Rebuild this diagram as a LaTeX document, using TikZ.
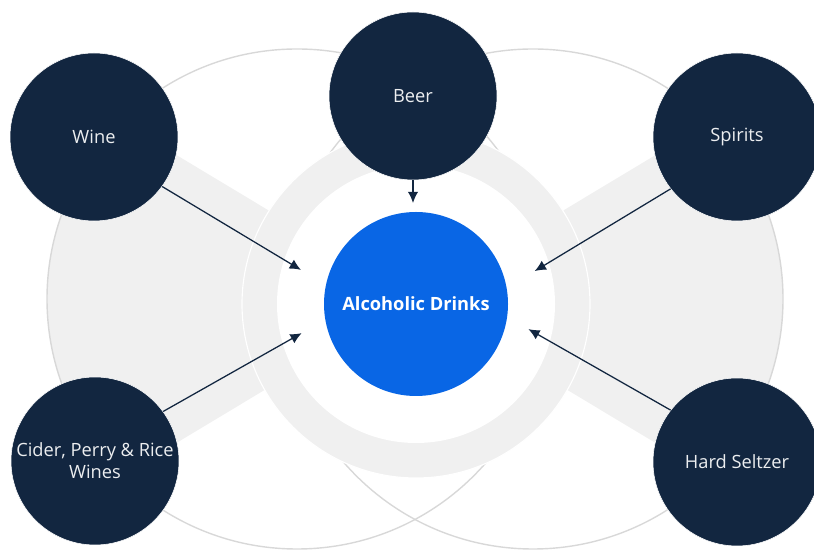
\documentclass[tikz,border=0pt]{standalone}
\usepackage{fontspec}
\setmainfont{Open Sans}
\usetikzlibrary{arrows.meta, calc}
\definecolor{dkNavy}{RGB}{18,38,64}
\definecolor{brBlue}{RGB}{9,102,229}
\definecolor{bgGray}{RGB}{240,240,240}
\definecolor{lnGray}{RGB}{216,216,216}
\tikzset{
  drink/.style={circle, fill=dkNavy, draw=white, line width=0.4pt,
                minimum size=4.2cm, inner sep=0pt, text=white!92!dkNavy, align=center,
                font=\fontsize{13}{15.6}\selectfont},
  hub/.style={circle, fill=brBlue, minimum size=4.6cm, inner sep=0pt,
              text=white, font=\bfseries\fontsize{13}{15}\selectfont},
  flow/.style={draw=dkNavy, line width=0.9pt, -{Latex[length=2.8mm, width=2.6mm]}},
  outline/.style={draw=lnGray, line width=1pt},
}

\begin{document}
\begin{tikzpicture}[x=1cm, y=1cm]
  \useasboundingbox (0,0) rectangle (20.35,13.775);
  \coordinate (mid) at (10.4,6.175);
  % side wedges, cut by the two large circles
  \begin{scope}
    \clip (7.425,6.3) circle (6.25);
    \fill[bgGray] (10.4,6.3) -- +(149:12) -- +(211:12) -- cycle;
  \end{scope}
  \begin{scope}
    \clip (13.325,6.3) circle (6.25);
    \fill[bgGray] (10.4,6.3) -- +(31:12) -- +(-31:12) -- cycle;
  \end{scope}
  % large circles
  \draw[outline] (7.425,6.3) circle (6.25);
  \draw[outline] (13.325,6.3) circle (6.25);
  % ring round the hub
  \filldraw[fill=bgGray, draw=white, line width=0.8pt] (mid) circle (4.35);
  \fill[white] (mid) circle (3.475);
  % hub and drinks
  \node[hub] (drinks) at (mid) {Alcoholic Drinks};
  \node[drink] (wine) at (2.35,10.35) {Wine};
  \node[drink] (beer) at (10.325,11.375) {Beer};
  \node[drink] (spirits) at (18.425,10.35) {Spirits};
  \node[drink] (cider) at (2.375,2.25) {Cider, Perry \& Rice\\Wines};
  \node[drink] (seltzer) at (18.425,2.225) {Hard Seltzer};
  % arrow tips
  \path (mid) ++(163.5:3) coordinate (wineTip);
  \path (mid) ++(194.3:2.95) coordinate (ciderTip);
  \path (mid) ++(15.5:3.08) coordinate (spiritsTip);
  \path (mid) ++(-12.6:2.88) coordinate (seltzerTip);
  \coordinate (beerTip) at (10.325,8.7);
  % arrows
  \draw[flow] (wine.-36) -- (wineTip);
  \draw[flow] (cider.36) -- (ciderTip);
  \draw[flow] (spirits.218) -- (spiritsTip);
  \draw[flow] (seltzer.142) -- (seltzerTip);
  \draw[flow] (beer.south) -- (beerTip);
\end{tikzpicture}
\end{document}
